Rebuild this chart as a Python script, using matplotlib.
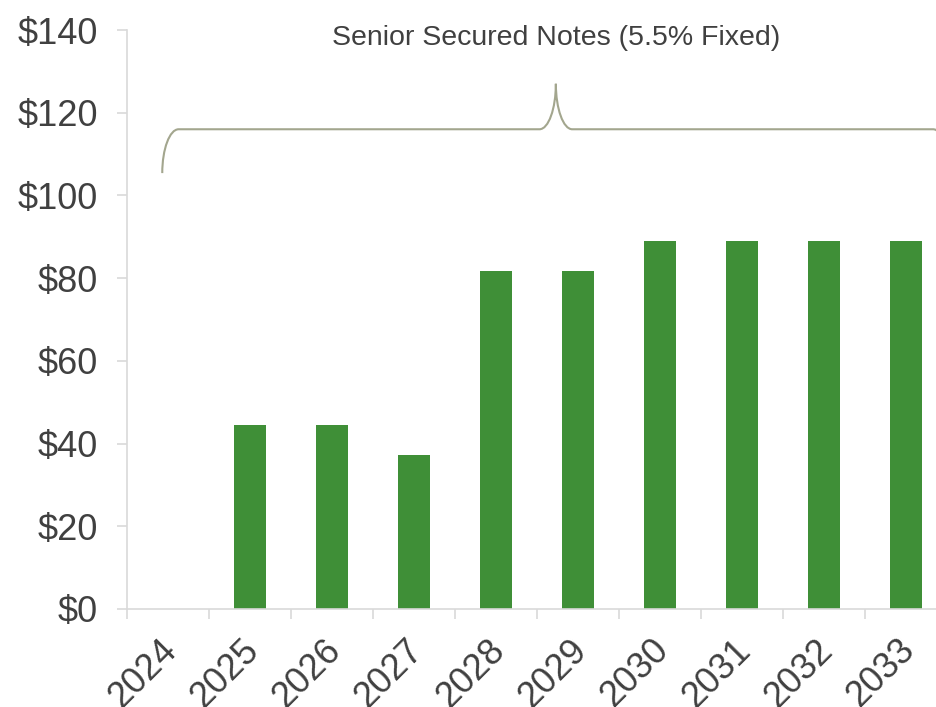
import matplotlib.pyplot as plt
from matplotlib.path import Path
from matplotlib.patches import PathPatch
from matplotlib.transforms import ScaledTranslation

years = ['2024', '2025', '2026', '2027', '2028', '2029', '2030', '2031', '2032', '2033']
notes = [0, 44.5, 44.5, 37.2, 81.7, 81.7, 89.0, 89.0, 89.0, 89.0]
y_ticks = [0, 20, 40, 60, 80, 100, 120, 140]
y_labels = ['$' + str(v) for v in y_ticks]
brace_label = 'Senior Secured Notes (5.5% Fixed)'

plt.rcParams['font.family'] = ['Liberation Sans', 'DejaVu Sans']

fig = plt.figure(figsize=(9.36, 7.07), dpi=100)
ax = fig.add_axes([127 / 936, 98 / 707, 820 / 936, 579 / 707])

x = range(len(years))
ax.bar(x, notes, width=0.39, color='#3F8F37', zorder=2)

ax.set_xlim(-0.5, len(years) - 0.5)
ax.set_ylim(0, 140)
ax.set_yticks(y_ticks)
ax.set_yticklabels(y_labels)
ax.set_xticks(x)
ax.set_xticklabels(years, rotation=45, ha='right', rotation_mode='anchor')
# ticks sit on the category boundaries, like excel
ax.set_xticks([i - 0.5 for i in range(len(years) + 1)], minor=True)
ax.tick_params(axis='x', which='major', length=0, pad=17, labelsize=26, labelcolor='#404040')
ax.tick_params(axis='x', which='minor', length=7, width=1.2, color='#D9D9D9')
ax.tick_params(axis='y', length=7, width=1.2, color='#D9D9D9', pad=14,
               labelsize=26, labelcolor='#404040')
shift = ScaledTranslation(-9 / 100, 0, fig.dpi_scale_trans)
for lab in ax.get_xticklabels():
    lab.set_transform(lab.get_transform() + shift)

for s in ['top', 'right']:
    ax.spines[s].set_visible(False)
for s in ['left', 'bottom']:
    ax.spines[s].set_color('#D9D9D9')
    ax.spines[s].set_linewidth(1.2)

# curly brace over the years
x0, x1 = -0.07, len(years) - 0.47
xm = (x0 + x1) / 2
y_end, y_mid, y_tip = 105.4, 116.0, 127.0
dx = 0.2
k = 0.55
verts = [
    (x0, y_end), (x0, y_end + (y_mid - y_end) * k), (x0 + dx * (1 - k), y_mid), (x0 + dx, y_mid),
    (xm - dx, y_mid),
    (xm - dx * (1 - k), y_mid), (xm, y_mid + (y_tip - y_mid) * (1 - k)), (xm, y_tip),
    (xm, y_mid + (y_tip - y_mid) * (1 - k)), (xm + dx * (1 - k), y_mid), (xm + dx, y_mid),
    (x1 - dx, y_mid),
    (x1 - dx * (1 - k), y_mid), (x1, y_end + (y_mid - y_end) * k), (x1, y_end),
]
codes = [Path.MOVETO, Path.CURVE4, Path.CURVE4, Path.CURVE4, Path.LINETO,
         Path.CURVE4, Path.CURVE4, Path.CURVE4,
         Path.CURVE4, Path.CURVE4, Path.CURVE4, Path.LINETO,
         Path.CURVE4, Path.CURVE4, Path.CURVE4]
ax.add_patch(PathPatch(Path(verts, codes), fill=False, edgecolor='#A3A68E', lw=1.5, clip_on=False))
ax.text(xm, 138, brace_label, ha='center', va='center', fontsize=20.5, color='#404040')

fig.savefig('out.png', dpi=100)
